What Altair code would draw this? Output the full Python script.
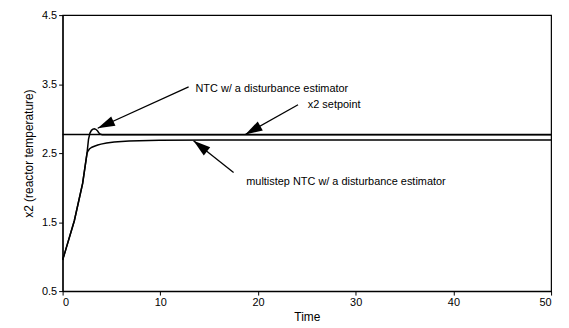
import math
import altair as alt
import pandas as pd

# ---- data ----
ntc_t = [0, 0.3, 1.2, 2.05, 2.5, 2.65, 2.8, 2.95, 3.1, 3.25, 3.4, 3.56, 3.7, 3.85,
         4.06, 5, 50]
ntc_y = [0.95, 1.09, 1.52, 2.06, 2.50, 2.70, 2.79, 2.83, 2.848, 2.852, 2.845, 2.825,
         2.795, 2.775, 2.766, 2.765, 2.765]

multi_t = [0, 0.3, 1.2, 2.05, 2.5, 2.6, 2.74, 3.0, 3.25, 3.6, 3.93, 4.5, 5.28, 6.8,
           9.9, 15, 50]
multi_y = [0.95, 1.09, 1.52, 2.06, 2.50, 2.53, 2.56, 2.585, 2.60, 2.618, 2.63, 2.645,
           2.66, 2.675, 2.685, 2.69, 2.69]

setpoint = 2.77
time_range = [0, 50]

labels = ["NTC w/ a disturbance estimator", "x2 setpoint",
          "multistep NTC w/ a disturbance estimator"]
label_t = [13.6, 25.1, 18.8]
label_y = [3.43, 3.19, 2.08]
tail_t = [12.9, 24.1, 17.5]
tail_y = [3.46, 3.20, 2.22]
head_t = [3.59, 18.7, 13.4]
head_y = [2.86, 2.77, 2.68]

y_ticks = [0.5, 1.5, 2.5, 3.5, 4.5]
x_ticks = [0, 10, 20, 30, 40, 50]

W, H = 492, 278
FONT = "Liberation Sans"

sx = W / 50.0
sy = H / 4.0
angles = []
for i in range(3):
    dx = (head_t[i] - tail_t[i]) * sx
    dy = -(head_y[i] - tail_y[i]) * sy
    a = math.degrees(math.atan2(dx, -dy)) % 360
    angles.append(a)

curves = pd.DataFrame(
    {"t": ntc_t + multi_t, "y": ntc_y + multi_y,
     "series": ["NTC"] * len(ntc_t) + ["multistep"] * len(multi_t)}
)
sp = pd.DataFrame({"t": [time_range[0]], "t2": [time_range[1]], "y": [setpoint]})
ann = pd.DataFrame({"label": labels, "lt": label_t, "ly": label_y,
                    "tt": tail_t, "ty": tail_y, "ht": head_t, "hy": head_y,
                    "ang": angles})

xs = alt.Scale(domain=[0, 50], nice=False, zero=False)
ys = alt.Scale(domain=[0.5, 4.5], nice=False, zero=False)

x_axis = alt.Axis(values=x_ticks, format="d", title="Time", grid=False,
                  titleFontWeight="normal", titleFontSize=12, titlePadding=4)
y_axis = alt.Axis(values=y_ticks, format=".1f", title="x2 (reactor temperature)",
                  grid=False, titleFontWeight="normal", titleFontSize=12,
                  titleX=-34, titleY=H / 2, titleAlign="center",
                  titleBaseline="middle", titleAngle=270)

lines = alt.Chart(curves).mark_line(color="black", strokeWidth=1.5,
                                    interpolate="linear").encode(
    x=alt.X("t:Q", scale=xs, axis=x_axis),
    y=alt.Y("y:Q", scale=ys, axis=y_axis),
    detail="series:N",
)

sp_rule = alt.Chart(sp).mark_rule(color="black", strokeWidth=1.5).encode(
    x="t:Q", x2="t2:Q", y="y:Q"
)

shafts = alt.Chart(ann).mark_rule(color="black", strokeWidth=1.3).encode(
    x="tt:Q", y="ty:Q", x2="ht:Q", y2="hy:Q"
)

heads = alt.Chart(ann).mark_point(
    shape="M0,0 L0.3,1 L-0.3,1 Z", filled=True, color="black", opacity=1,
    size=1200, strokeWidth=0,
).encode(x="ht:Q", y="hy:Q", angle=alt.Angle("ang:Q", scale=None))

texts = alt.Chart(ann).mark_text(align="left", baseline="middle", font=FONT,
                                 fontSize=11, color="black").encode(
    x="lt:Q", y="ly:Q", text="label:N"
)

chart = (lines + sp_rule + shafts + heads + texts).properties(
    width=W, height=H,
    autosize=alt.AutoSizeParams(type="none"),
    padding={"left": 55, "top": 6, "right": 10, "bottom": 36},
).configure_view(stroke="black", strokeWidth=1.2).configure_axis(
    labelFont=FONT, titleFont=FONT, labelFontSize=11, labelColor="black",
    titleColor="black", domainColor="black", tickColor="black", tickSize=4,
    domainWidth=1.2, labelPadding=2,
)

chart.save("out.html", embed_options={"renderer": "svg", "actions": False})
